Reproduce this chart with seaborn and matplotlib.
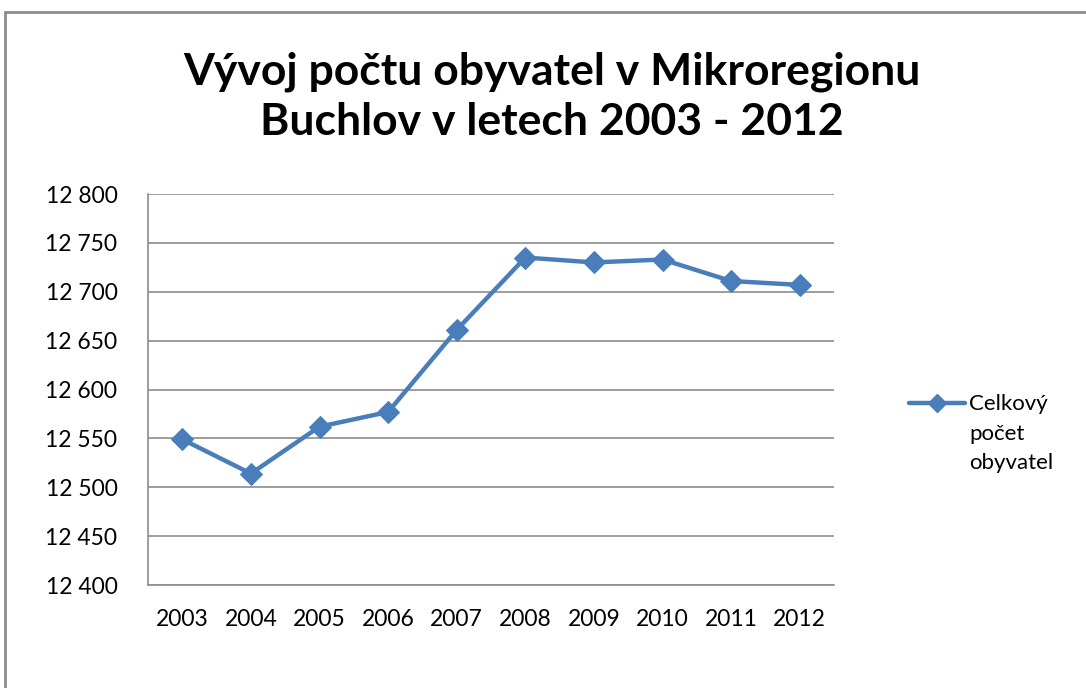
import numpy as np
import pandas as pd
import matplotlib
matplotlib.use("Agg")
import matplotlib.pyplot as plt
from matplotlib.ticker import FuncFormatter, FixedLocator
from matplotlib.lines import Line2D
from matplotlib.legend_handler import HandlerLine2D
from matplotlib.transforms import Affine2D
import seaborn as sns

years = ["2003", "2004", "2005", "2006", "2007", "2008", "2009", "2010", "2011", "2012"]
population = [12549, 12514, 12562, 12577, 12661, 12735, 12730, 12733, 12711, 12707]
series_label = "Celkový\npočet\nobyvatel"
title = "Vývoj počtu obyvatel v Mikroregionu\nBuchlov v letech 2003 - 2012"

sns.set_style("white", {"text.color": "black", "xtick.color": "black", "ytick.color": "black"})
plt.rcParams['font.family'] = ['Lato', 'DejaVu Sans']

df = pd.DataFrame({"pos": np.arange(len(years)), "pop": population})

fig = plt.figure(figsize=(10.86, 6.88), dpi=100)
ax = fig.add_axes([0.1363, 0.1497, 0.6317, 0.5683])

blue = "#4A7EBB"
grid = "#8C8C8C"

sns.lineplot(data=df, x="pos", y="pop", ax=ax, color=blue, linewidth=3.2,
             marker="D", markersize=11, markeredgecolor=blue, legend=False)

ax.set_xlim(-0.5, len(years) - 0.5)
ax.set_ylim(12400, 12800)
ax.set_yticks(range(12400, 12801, 50))
ax.yaxis.set_major_formatter(FuncFormatter(lambda v, p: f"{int(v):,}".replace(",", " ")))
ax.set_xticks(np.arange(len(years)))
ax.set_xticklabels(years)
ax.xaxis.set_minor_locator(FixedLocator(np.arange(-0.5, len(years), 1.0)))
ax.tick_params(axis="x", which="major", length=0, pad=17, labelsize=16.5, labelcolor="black")
ax.tick_params(axis="x", which="minor", length=7, color=grid, width=1, direction="out")
ax.tick_params(axis="y", length=6, color=grid, width=1, direction="out", labelsize=16.5, pad=16,
               labelcolor="black")
ax.set_xlabel("")
ax.set_ylabel("")

ax.yaxis.grid(True, color=grid, linewidth=1.2)
ax.set_axisbelow(True)
for s in ["top", "right"]:
    ax.spines[s].set_visible(False)
for s in ["left", "bottom"]:
    ax.spines[s].set_color(grid)
    ax.spines[s].set_linewidth(1.2)


# legend marker sits next to the first line of the wrapped label
class TopLineHandler(HandlerLine2D):
    def create_artists(self, legend, orig_handle, xdescent, ydescent, width, height, fontsize, trans):
        shift = Affine2D().translate(0, 22.5) + trans
        return super().create_artists(legend, orig_handle, xdescent, ydescent, width, height,
                                      fontsize, shift)


handle = Line2D([], [], color=blue, linewidth=3.2, marker="D", markersize=9)
leg = fig.legend([handle], [series_label], loc="upper left", bbox_to_anchor=(0.819, 0.456),
                 frameon=False, handlelength=2.5, handletextpad=0.2, labelspacing=0.2,
                 handler_map={Line2D: TopLineHandler()}, prop={"size": 16})
for t in leg.get_texts():
    t.set_linespacing(1.6)
    t.set_color("black")

fig.text(0.508, 0.86, title, ha="center", va="center", fontsize=32, fontweight="bold",
         linespacing=1.3, color="black")

# chart frame (top + left edges visible)
fig.add_artist(Line2D([0.0046, 1.0], [0.9826, 0.9826], color="#8C8C8C", linewidth=2,
                      transform=fig.transFigure))
fig.add_artist(Line2D([0.0046, 0.0046], [0.0, 0.9826], color="#8C8C8C", linewidth=2,
                      transform=fig.transFigure))

fig.savefig("out.png", dpi=100)
